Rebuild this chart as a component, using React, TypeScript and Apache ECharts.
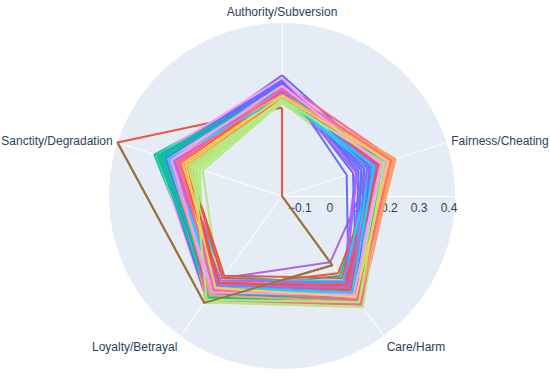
import React, { useEffect, useRef } from "react";
import * as echarts from "echarts";

const categories = [
  "Authority/Subversion",
  "Fairness/Cheating",
  "Care/Harm",
  "Loyalty/Betrayal",
  "Sanctity/Degradation",
];
const radialTickLabels = [-0.1, 0, 0.1, 0.2, 0.3, 0.4];
const radialMin = -0.16;
const radialMax = 0.42;

const authority = [
  0.245, 0.137, 0.21, 0.17, 0.2, 0.18, 0.19, 0.155, 0.2, 0.175,
  0.23, 0.19, 0.18, 0.215, 0.17, 0.19, 0.22, 0.16, 0.205, 0.16,
  0.225, 0.175, 0.19, 0.21, 0.185, 0.17, 0.2, 0.15, 0.18, 0.165,
  0.22, 0.18, 0.2, 0.19, 0.175, 0.16, 0.185, 0.155, 0.195, 0.17,
  0.21, 0.185, 0.195, 0.2, 0.18, 0.175, 0.17, 0.16, 0.235, 0.18,
  0.21, 0.175, 0.19, 0.2, 0.17, 0.185, 0.195, 0.165, 0.21, 0.18,
  0.225, 0.17, 0.205, 0.195, 0.18, 0.175, 0.19, 0.16, 0.2, 0.17,
  0.19, 0.18, 0.205, 0.175, 0.2, 0.185, 0.195, 0.165, 0.21, 0.18,
  0.22, 0.17, 0.2, 0.19, 0.185, 0.175, 0.195, 0.16, 0.205, 0.18,
  0.215, 0.185, 0.2, 0.19, 0.18, 0.17, 0.2, 0.165, 0.21, 0.175,
];
const fairness = [
  0.19, -0.16, 0.2, 0.16, 0.23, 0.18, 0.22, 0.14, 0.21, 0.235,
  0.068, 0.17, 0.19, 0.1, 0.22, 0.13, 0.235, 0.2, 0.19, 0.215,
  0.09, 0.2, 0.18, 0.12, 0.24, 0.16, 0.21, 0.18, 0.22, 0.225,
  0.11, 0.19, 0.17, 0.13, 0.215, 0.175, 0.205, 0.21, 0.2, 0.23,
  0.14, 0.18, 0.165, 0.15, 0.225, 0.17, 0.215, 0.19, 0.16, 0.2,
  0.12, 0.185, 0.21, 0.145, 0.24, 0.155, 0.225, 0.175, 0.205, 0.22,
  0.13, 0.165, 0.195, 0.105, 0.23, 0.15, 0.22, 0.21, 0.18, 0.225,
  0.2, 0.17, 0.215, 0.19, 0.225, 0.175, 0.2, 0.185, 0.21, 0.23,
  0.17, 0.18, 0.19, 0.16, 0.22, 0.2, 0.215, 0.195, 0.185, 0.225,
  0.15, 0.18, 0.2, 0.17, 0.235, 0.165, 0.225, 0.2, 0.19, 0.215,
];
const care = [
  0.26, 0.127, 0.27, 0.115, 0.25, 0.24, 0.27, 0.22, 0.23, 0.26,
  0.22, 0.24, 0.28, 0.19, 0.26, 0.2, 0.29, 0.3, 0.26, 0.24,
  0.27, 0.25, 0.17, 0.23, 0.28, 0.22, 0.26, 0.25, 0.25, 0.27,
  0.25, 0.16, 0.23, 0.21, 0.27, 0.21, 0.24, 0.28, 0.27, 0.28,
  0.24, 0.18, 0.26, 0.24, 0.24, 0.25, 0.25, 0.29, 0.28, 0.22,
  0.26, 0.2, 0.29, 0.22, 0.27, 0.19, 0.28, 0.26, 0.25, 0.23,
  0.27, 0.21, 0.27, 0.2, 0.29, 0.23, 0.28, 0.3, 0.24, 0.26,
  0.26, 0.24, 0.27, 0.23, 0.28, 0.25, 0.26, 0.27, 0.25, 0.26,
  0.27, 0.22, 0.28, 0.24, 0.27, 0.25, 0.29, 0.26, 0.25, 0.27,
  0.26, 0.23, 0.27, 0.22, 0.28, 0.24, 0.27, 0.28, 0.25, 0.26,
];
const loyalty = [
  0.24, 0.283, 0.25, 0.18, 0.23, 0.22, 0.24, 0.2, 0.21, 0.22,
  0.25, 0.23, 0.26, 0.22, 0.27, 0.21, 0.25, 0.28, 0.24, 0.2,
  0.26, 0.22, 0.23, 0.21, 0.25, 0.2, 0.22, 0.27, 0.21, 0.24,
  0.24, 0.22, 0.22, 0.2, 0.26, 0.17, 0.23, 0.26, 0.23, 0.25,
  0.23, 0.17, 0.24, 0.22, 0.22, 0.21, 0.2, 0.28, 0.27, 0.19,
  0.25, 0.18, 0.26, 0.21, 0.23, 0.19, 0.24, 0.26, 0.22, 0.21,
  0.27, 0.2, 0.25, 0.19, 0.27, 0.22, 0.25, 0.28, 0.23, 0.23,
  0.24, 0.22, 0.25, 0.21, 0.24, 0.23, 0.22, 0.26, 0.24, 0.23,
  0.25, 0.2, 0.26, 0.22, 0.24, 0.21, 0.27, 0.25, 0.23, 0.22,
  0.25, 0.2, 0.24, 0.21, 0.25, 0.22, 0.23, 0.27, 0.24, 0.22,
];
const sanctity = [
  0.25, 0.42, 0.29, 0.19, 0.24, 0.22, 0.21, 0.12, 0.2, 0.18,
  0.26, 0.16, 0.27, 0.23, 0.25, 0.24, 0.22, 0.15, 0.21, 0.19,
  0.27, 0.18, 0.26, 0.22, 0.23, 0.24, 0.2, 0.16, 0.21, 0.17,
  0.25, 0.19, 0.28, 0.21, 0.26, 0.23, 0.2, 0.14, 0.22, 0.18,
  0.24, 0.17, 0.27, 0.22, 0.22, 0.25, 0.19, 0.13, 0.28, 0.2,
  0.26, 0.17, 0.25, 0.23, 0.21, 0.24, 0.2, 0.15, 0.23, 0.17,
  0.27, 0.18, 0.28, 0.21, 0.24, 0.25, 0.21, 0.14, 0.22, 0.19,
  0.23, 0.2, 0.25, 0.19, 0.24, 0.22, 0.21, 0.17, 0.26, 0.2,
  0.25, 0.18, 0.27, 0.23, 0.22, 0.24, 0.21, 0.16, 0.24, 0.19,
  0.26, 0.2, 0.26, 0.22, 0.23, 0.24, 0.2, 0.15, 0.23, 0.18,
];

const palette = [
  "#636efa", "#EF553B", "#00cc96", "#ab63fa", "#FFA15A",
  "#19d3f3", "#FF6692", "#B6E880", "#FF97FF", "#FECB52",
];
const outlierIndex = 1;
const outlierOverlayColor = "#8f7a3a";

const textColor = "#2a3f5f";
const fontFamily = "'Liberation Sans', Arial, sans-serif";

// radar indicators go counter-clockwise from the top
const radarOrder = [0, 4, 3, 2, 1];
// angle value on polar 0 (startAngle 0, clockwise) for category index
const angleOf = (idx: number) => (((72 * idx - 90) % 360) + 360) % 360;

function fmtTick(v: number): string {
  const hit = radialTickLabels.find((t) => Math.abs(t - v) < 1e-6);
  if (hit === undefined) return "";
  if (Math.abs(hit) < 1e-9) return "0";
  const s = Math.abs(hit).toFixed(1);
  return hit < 0 ? "\u2212" + s : s;
}

export default function App() {
  const ref = useRef<HTMLDivElement>(null);
  useEffect(() => {
    if (!ref.current) return;
    const chart = echarts.init(ref.current, undefined, { renderer: "svg" });

    const rows = authority.map((_, k) => [
      authority[k],
      fairness[k],
      care[k],
      loyalty[k],
      sanctity[k],
    ]);

    const radarSeries = rows.map((row, k) => ({
      type: "radar",
      radarIndex: 0,
      symbol: "none",
      z: 2,
      lineStyle: { width: 2, color: palette[k % palette.length], opacity: 1 },
      itemStyle: { color: palette[k % palette.length] },
      data: [{ value: radarOrder.map((i) => row[i]) }],
    }));

    const o = rows[outlierIndex];
    const overlayIdx = [4, 3, 2, 1];
    const overlaySeries = {
      type: "line",
      coordinateSystem: "polar",
      polarIndex: 0,
      showSymbol: false,
      symbol: "none",
      z: 2,
      lineStyle: { width: 2, color: outlierOverlayColor },
      data: overlayIdx.map((i) => [o[i], angleOf(i)]),
    };

    const lowLabels = new Set([categories[2], categories[3]]);

    chart.setOption({
      animation: false,
      backgroundColor: "#ffffff",
      polar: [{ center: [282, 196], radius: 173 }],
      angleAxis: [
        {
          polarIndex: 0,
          type: "value",
          min: 0,
          max: 360,
          startAngle: 0,
          clockwise: true,
          show: false,
        },
      ],
      radiusAxis: [
        {
          polarIndex: 0,
          type: "value",
          min: radialMin,
          max: radialMax,
          z: 0,
          axisLine: { show: true, lineStyle: { color: "#ffffff", width: 1 } },
          axisTick: { show: false },
          splitLine: { show: true, lineStyle: { color: "#ffffff", width: 1 } },
          splitArea: { show: true, areaStyle: { color: ["#E5ECF6"] } },
          axisLabel: {
            formatter: (v: number) => fmtTick(v),
            color: textColor,
            fontSize: 12,
            fontFamily,
            align: "center",
            verticalAlign: "top",
            margin: -6,
            showMinLabel: false,
            showMaxLabel: false,
          },
        },
      ],
      radar: {
        center: [282, 196],
        radius: 173,
        startAngle: 90,
        shape: "circle",
        z: 1,
        nameGap: 5,
        indicator: radarOrder.map((i) => ({
          name: categories[i],
          min: radialMin,
          max: radialMax,
        })),
        axisName: {
          color: textColor,
          fontSize: 12,
          fontFamily,
          formatter: (name: string) =>
            lowLabels.has(name) ? "{low|" + name + "}" : name,
          rich: {
            low: {
              color: textColor,
              fontSize: 12,
              fontFamily,
              padding: [14, 0, 0, 0],
            },
          },
        },
        axisLine: { show: true, lineStyle: { color: "#ffffff", width: 1 } },
        axisTick: { show: false },
        axisLabel: { show: false },
        splitLine: { show: false },
        splitArea: { show: false },
      },
      series: [
        ...radarSeries.slice(0, outlierIndex + 1),
        overlaySeries,
        ...radarSeries.slice(outlierIndex + 1),
      ],
    });

    return () => chart.dispose();
  }, []);

  return (
    <div
      ref={ref}
      style={{ position: "absolute", left: 0, top: 0, width: 550, height: 377 }}
    />
  );
}
